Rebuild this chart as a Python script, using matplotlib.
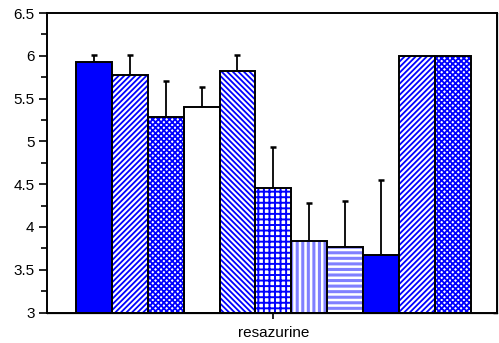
import matplotlib
matplotlib.use("Agg")
import matplotlib.pyplot as plt
from matplotlib.ticker import MultipleLocator, FormatStrFormatter

plt.rcParams['font.family'] = ['Liberation Sans', 'DejaVu Sans']

# data
category = ["resazurine"]
values = [5.93, 5.77, 5.28, 5.40, 5.82, 4.46, 3.84, 3.77, 3.675, 6.0, 6.0]
errors = [0.08, 0.24, 0.42, 0.24, 0.19, 0.47, 0.44, 0.53, 0.87, 0.0, 0.0]

# per-bar styling: (face, hatch, hatch colour, hatch linewidth)
BLUE = '#0000FF'
LIGHT = '#8080FF'
styles = [
    (BLUE, None, BLUE, 1.0),
    ('white', '//////', BLUE, 1.3),
    ('white', 'xxxxxx', BLUE, 1.3),
    ('white', None, BLUE, 1.0),
    ('white', '\\' * 6, BLUE, 1.3),
    ('white', '+++', BLUE, 1.4),
    ('white', '|||', LIGHT, 2.2),
    ('white', '---', LIGHT, 2.2),
    (BLUE, None, BLUE, 1.0),
    ('white', '//////', BLUE, 1.3),
    ('white', 'xxxxxx', BLUE, 1.3),
]

fig = plt.figure(figsize=(4.99, 3.43), dpi=100)
ax = fig.add_axes([47 / 499, 1 - 312.5 / 343, 450 / 499, 299.5 / 343])

n = len(values)
w = 1.0 / n
xs = [-0.5 + w * (i + 0.5) for i in range(n)]

for x, v, e, (fc, hatch, hc, hlw) in zip(xs, values, errors, styles):
    # hatch layer
    b = ax.bar(x, v - 3, bottom=3, width=w, color=fc, edgecolor=hc,
               linewidth=0, hatch=hatch, zorder=2)
    for p in b:
        if hasattr(p, 'set_hatch_linewidth'):
            p.set_hatch_linewidth(hlw)
    # outline layer
    ax.bar(x, v - 3, bottom=3, width=w, facecolor='none', edgecolor='black',
           linewidth=1.4, zorder=3)
    if e > 0:
        ax.errorbar(x, v, yerr=[[0], [e]], fmt='none', ecolor='black',
                    elinewidth=1.3, capsize=2.5, capthick=1.8, zorder=1)

ax.set_ylim(3, 6.5)
ax.set_xlim(-0.5 - 0.073, 0.5 + 0.066)
ax.yaxis.set_major_locator(MultipleLocator(0.5))
ax.yaxis.set_minor_locator(MultipleLocator(0.25))
ax.yaxis.set_major_formatter(FormatStrFormatter('%g'))
ax.set_xticks([0])
ax.set_xticklabels(category)
ax.tick_params(axis='y', which='major', direction='out', length=6, width=1.2,
               labelsize=11, pad=3)
ax.tick_params(axis='y', which='minor', direction='out', length=4, width=1.2)
ax.tick_params(axis='x', direction='out', length=4, width=1.2, labelsize=11, pad=6)
for s in ax.spines.values():
    s.set_linewidth(1.4)

# right side ticks pointing in
ax_r = ax.twinx()
ax_r.set_ylim(3, 6.5)
ax_r.yaxis.set_major_locator(MultipleLocator(0.5))
ax_r.yaxis.set_minor_locator(MultipleLocator(0.25))
ax_r.tick_params(axis='y', which='both', direction='in', length=3, width=1.0,
                 labelright=False)
ax_r.set_zorder(-1)

# top tick pointing in
ax_t = ax.twiny()
ax_t.set_xlim(ax.get_xlim())
ax_t.set_xticks([0])
ax_t.tick_params(axis='x', direction='in', length=4, width=1.0, labeltop=False)
ax_t.set_zorder(-1)

fig.savefig('out.png', dpi=100, facecolor='white')
